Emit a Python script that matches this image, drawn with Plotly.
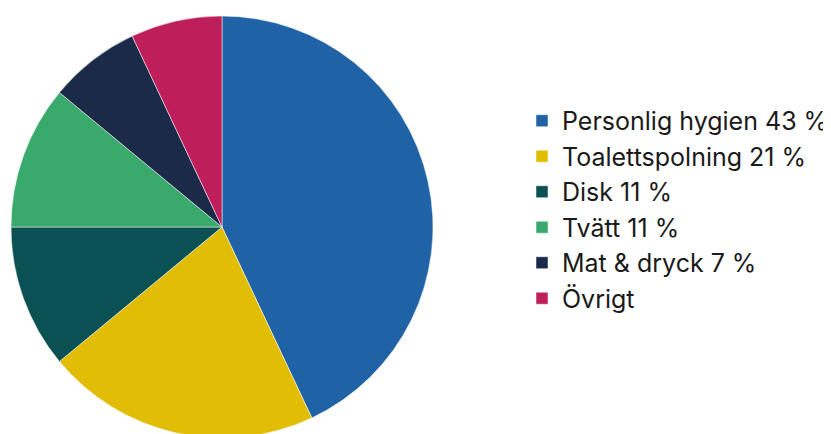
import plotly.graph_objects as go

labels = ["Personlig hygien 43 %", "Toalettspolning 21 %", "Disk 11 %", "Tvätt 11 %", "Mat & dryck 7 %", "Övrigt"]
values = [43, 21, 11, 11, 7, 7]
colors = ["#1f62a5", "#e2bd06", "#0b5052", "#3aaa6c", "#1a2a48", "#be1f5a"]

fig = go.Figure(go.Pie(
    labels=labels,
    values=values,
    sort=False,
    direction="clockwise",
    rotation=0,
    textinfo="none",
    hoverinfo="label",
    marker=dict(colors=colors, line=dict(color="white", width=0.5)),
    domain=dict(x=[3 / 831, 425 / 831], y=[0, 1]),
))

fig.update_layout(
    width=831,
    height=434,
    margin=dict(l=0, r=0, t=8, b=4),
    paper_bgcolor="white",
    plot_bgcolor="white",
    showlegend=True,
    legend=dict(
        x=514 / 831,
        xanchor="left",
        y=0.5415,
        yanchor="middle",
        font=dict(family="Inter, Liberation Sans, sans-serif", size=25, color="#1a1a1a"),
        bgcolor="rgba(0,0,0,0)",
    ),
)

fig.write_html("out.html")
